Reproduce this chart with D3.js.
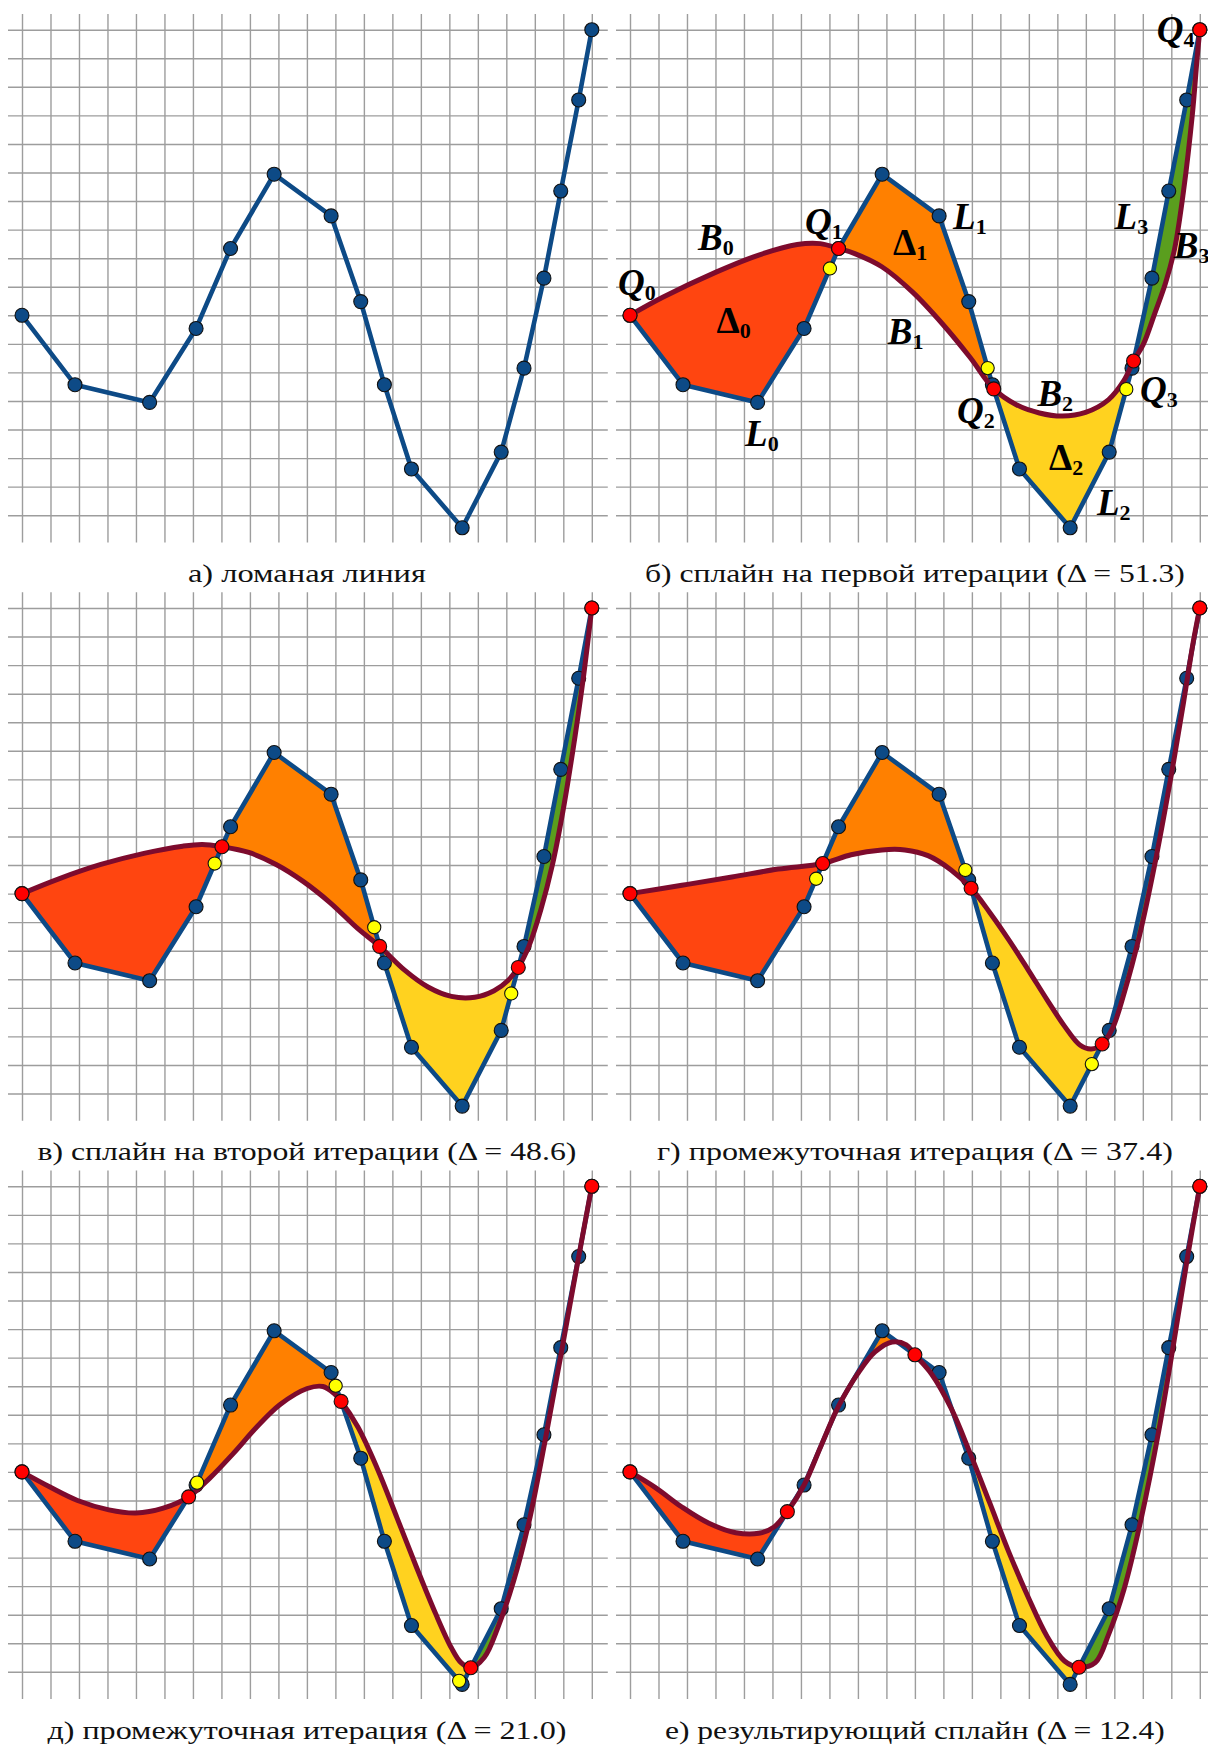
<!DOCTYPE html>
<html>
<head>
<meta charset="utf-8">
<script src="https://cdn.jsdelivr.net/npm/d3@7"></script>
<style>
  body { margin: 0; background: #fff; }
  svg { display: block; }
</style>
</head>
<body>
<svg id="fig" width="1208" height="1747"></svg>
<script>
// ---- data (grid units: x to the right, y upwards) ----
// vertices of the polyline L
const polyX = [0, 1.86, 4.48, 6.11, 7.32, 8.85, 10.85, 11.89, 12.72, 13.67, 15.45, 16.82, 17.62, 18.32, 18.91, 19.54, 20];
const polyY = [7, 4.57, 3.95, 6.54, 9.34, 11.94, 10.48, 7.48, 4.57, 1.62, -0.44, 2.21, 5.15, 8.30, 11.35, 14.54, 17];

// panel order and captions
const panelKeys = ["a", "b", "c", "d", "e", "f"];
const captionHeads = ["а) ломаная линия", "б) сплайн на первой итерации", "в) сплайн на второй итерации",
                      "г) промежуточная итерация", "д) промежуточная итерация", "е) результирующий сплайн"];
const deltas = [null, 51.3, 48.6, 37.4, 21.0, 12.4];

// spline nodes Q0..Q4, as fractional positions along the polyline
const nodesB = [0, 4, 8.05, 12.08, 16];
const nodesC = [0, 3.75, 7.8, 11.75, 16];
const nodesD = [0, 3.54, 7.1, 10.82, 16];
const nodesE = [0, 2.84, 6.337, 10.22, 16];
const nodesF = [0, 2.64, 5.575, 10.226, 16];

// candidate points (next node positions), same encoding
const probesB = [3.75, 7.8, 11.75];
const probesC = [3.54, 7.57, 11.44];
const probesD = [3.35, 6.885, 10.555];
const probesE = [3.03, 6.154, 9.94];

// interior points of the curve pieces B0..B3 between consecutive nodes
const curvesB = [
  [[1.15, 7.63], [3.04, 8.52], [4.52, 9.11], [5.87, 9.48], [6.68, 9.51]],
  [[7.89, 9.16], [8.84, 8.70], [9.92, 7.81], [11.0, 6.66], [11.94, 5.52]],
  [[13.56, 3.87], [14.37, 3.58], [15.18, 3.47], [15.99, 3.60], [16.80, 4.05], [17.34, 4.72]],
  [[18.02, 5.99], [18.42, 7.07], [18.80, 8.14], [19.12, 9.35], [19.43, 11.36], [19.74, 14.05], [19.90, 15.93]]
];
const curvesC = [
  [[1.27, 7.51], [2.77, 8.02], [4.28, 8.41], [5.64, 8.66], [6.33, 8.72]],
  [[7.96, 8.44], [8.92, 8.02], [9.88, 7.42], [10.83, 6.67], [11.79, 5.77]],
  [[13.43, 4.32], [14.25, 3.73], [15.07, 3.40], [15.89, 3.37], [16.57, 3.60], [17.05, 3.95]],
  [[17.80, 5.18], [18.21, 6.43], [18.62, 8.02], [19.03, 10.13], [19.41, 12.50], [19.71, 14.61]]
];
const curvesD = [
  [[1.82, 7.29], [3.58, 7.58], [5.20, 7.86]],
  [[7.76, 8.36], [8.84, 8.53], [9.65, 8.53], [10.46, 8.33], [11.27, 7.83]],
  [[12.62, 6.35], [13.29, 5.39], [13.97, 4.34], [14.64, 3.28], [15.25, 2.36], [15.79, 1.70], [16.19, 1.56]],
  [[16.94, 2.29], [17.35, 3.54], [17.88, 5.52], [18.42, 8.03], [18.96, 10.93], [19.43, 13.70], [19.77, 15.81]]
];
const curvesE = [
  [[1.0, 6.46], [1.95, 6.0], [3.05, 5.67], [4.0, 5.56], [4.96, 5.73]],
  [[6.60, 6.79], [7.42, 7.65], [8.24, 8.57], [9.06, 9.36], [10.01, 9.92], [10.56, 9.99], [10.97, 9.73]],
  [[11.79, 8.57], [12.47, 7.12], [13.16, 5.40], [13.84, 3.68], [14.52, 2.03], [15.07, 0.84], [15.41, 0.32]],
  [[16.23, 0.51], [16.71, 1.57], [17.25, 3.16], [17.80, 5.27], [18.35, 8.04], [18.89, 10.95], [19.44, 13.99]]
];
const curvesF = [
  [[0.88, 6.46], [1.82, 5.77], [2.77, 5.20], [3.71, 4.87], [4.52, 4.85], [5.06, 5.07]],
  [[6.11, 6.54], [6.70, 7.90], [7.32, 9.30], [8.0, 10.45], [8.6, 11.2], [9.2, 11.55], [9.7, 11.45]],
  [[10.59, 10.42], [11.27, 9.23], [11.94, 7.65], [12.62, 5.93], [13.29, 4.21], [13.97, 2.63], [14.64, 1.24], [15.25, 0.38]],
  [[16.33, 0.32], [16.80, 1.31], [17.34, 2.89], [17.95, 5.40], [18.56, 8.44], [19.10, 11.61], [19.57, 14.52]]
];

// annotations of panel б (main letter, subscript, anchor in grid units)
const labelMain = ["Q", "B", "Δ", "L", "Q", "Δ", "L", "B", "Q", "B", "Δ", "L", "Q", "L", "B", "Q"];
const labelSub  = ["0", "0", "0", "0", "1", "1", "1", "1", "2", "2", "2", "2", "3", "3", "3", "4"];
const labelX = [-0.42, 2.39, 3.04, 4.04, 6.14, 9.23, 11.34, 9.05, 11.48, 14.30, 14.71, 16.39, 17.90, 17.01, 19.09, 18.49];
const labelY = [7.71, 9.29, 6.38, 2.42, 9.83, 9.11, 10.03, 5.99, 3.23, 3.83, 1.58, 0.0, 3.97, 10.03, 9.02, 16.58];

// ---- layout & style ----
const layout = {
  cellW: 28.49, cellH: 28.56,
  colX: [22, 630], rowY: [29.7, 608, 1186.3], captionY: [582, 1160.3, 1738.6],
  captionW: [238, 540, 539, 516, 519, 500]
};
const style = {
  grid: "#9d9d9d", blue: "#0d4a86", spline: "#7d0b2d", node: "#ff0000", probe: "#ffff00",
  fills: ["#ff4510", "#ff8000", "#ffd21f", "#5a9e1e"]
};
const splineData = {
  b: { nodes: nodesB, probes: probesB, curves: curvesB },
  c: { nodes: nodesC, probes: probesC, curves: curvesC },
  d: { nodes: nodesD, probes: probesD, curves: curvesD },
  e: { nodes: nodesE, probes: probesE, curves: curvesE },
  f: { nodes: nodesF, probes: [], curves: curvesF }
};

const GW = 20, GH = 17;
const polyPts = polyX.map((v, i) => [v, polyY[i]]);

// point at fractional position s along the polyline
function pointAt(s) {
  const i = Math.min(Math.floor(s), polyX.length - 2);
  const t = s - i;
  return [polyX[i] + t * (polyX[i + 1] - polyX[i]), polyY[i] + t * (polyY[i + 1] - polyY[i])];
}
// part of the polyline between positions s0 and s1
function polySlice(s0, s1) {
  const pts = [pointAt(s0)];
  for (let i = Math.floor(s0) + 1; i < s1; i++) if (i > s0) pts.push(polyPts[i]);
  pts.push(pointAt(s1));
  return pts;
}

const svg = d3.select("#fig");

panelKeys.forEach((key, idx) => {
  const col = idx % 2, row = Math.floor(idx / 2);
  const cx = layout.colX[col], ry = layout.rowY[row];
  const x = d3.scaleLinear().domain([0, GW]).range([cx, cx + GW * layout.cellW]);
  const y = d3.scaleLinear().domain([0, GH]).range([ry + GH * layout.cellH, ry]);
  const g = svg.append("g").attr("class", "panel-" + key);

  // square grid drawn with axes
  const vGrid = g.append("g")
    .attr("transform", `translate(0,${ry - 15.7})`)
    .call(d3.axisBottom(x).tickValues(d3.range(0, GW + 1)).tickSize(528.5).tickFormat(""));
  const hGrid = g.append("g")
    .attr("transform", `translate(${cx - 14},0)`)
    .call(d3.axisRight(y).tickValues(d3.range(0, GH + 1)).tickSize(599.8).tickFormat(""));
  [vGrid, hGrid].forEach(ax => {
    ax.select(".domain").remove();
    ax.selectAll("text").remove();
    ax.selectAll("line").attr("stroke", style.grid).attr("stroke-width", 1.4);
  });

  const lin = d3.line().x(d => x(d[0])).y(d => y(d[1]));
  const smooth = d3.line().x(d => x(d[0])).y(d => y(d[1])).curve(d3.curveCatmullRom.alpha(0.5));

  const sd = splineData[key];
  let piecePts = [];
  if (sd) {
    piecePts = sd.curves.map((inner, k) => [pointAt(sd.nodes[k]), ...inner, pointAt(sd.nodes[k + 1])]);
    // deviation areas Δk between Lk and Bk
    g.append("g").selectAll("path").data(piecePts).join("path")
      .attr("d", (pts, k) => lin(polySlice(sd.nodes[k], sd.nodes[k + 1])) +
        smooth(pts.slice().reverse()).replace(/^M/, "L") + "Z")
      .attr("fill", (d, k) => style.fills[k])
      .attr("stroke", "none");
  }

  // polyline
  g.append("path").attr("d", lin(polyPts))
    .attr("fill", "none").attr("stroke", style.blue)
    .attr("stroke-width", 4.6).attr("stroke-linejoin", "round").attr("stroke-linecap", "round");
  g.append("g").selectAll("circle").data(polyPts).join("circle")
    .attr("cx", d => x(d[0])).attr("cy", d => y(d[1])).attr("r", 7)
    .attr("fill", style.blue).attr("stroke", "#111").attr("stroke-width", 1.1);

  if (sd) {
    // the spline as one smooth stroke
    const all = [];
    piecePts.forEach((pts, k) => pts.forEach((p, j) => { if (k === 0 || j > 0) all.push(p); }));
    g.append("path").attr("d", smooth(all))
      .attr("fill", "none").attr("stroke", style.spline)
      .attr("stroke-width", 5).attr("stroke-linecap", "round");

    g.append("g").selectAll("circle").data(sd.probes.map(pointAt)).join("circle")
      .attr("cx", d => x(d[0])).attr("cy", d => y(d[1])).attr("r", 6.6)
      .attr("fill", style.probe).attr("stroke", "#111").attr("stroke-width", 1.1);
    g.append("g").selectAll("circle").data(sd.nodes.map(pointAt)).join("circle")
      .attr("cx", d => x(d[0])).attr("cy", d => y(d[1])).attr("r", 7)
      .attr("fill", style.node).attr("stroke", "#111").attr("stroke-width", 1.1);
  }

  if (key === "b") {
    const lab = g.append("g").attr("font-family", "'Liberation Serif', 'Times New Roman', serif")
      .attr("font-weight", "bold").attr("fill", "#000");
    labelMain.forEach((m, i) => {
      const t = lab.append("text").attr("x", x(labelX[i])).attr("y", y(labelY[i])).attr("font-size", 37);
      t.append("tspan").attr("font-style", m === "Δ" ? "normal" : "italic").text(m);
      t.append("tspan").attr("font-style", "normal").attr("font-size", 22).attr("dy", 5).text(labelSub[i]);
    });
  }

  // caption
  const cap = captionHeads[idx] + (deltas[idx] !== null ? ` (Δ = ${deltas[idx].toFixed(1)})` : "");
  g.append("text")
    .attr("x", x(GW / 2)).attr("y", layout.captionY[row])
    .attr("text-anchor", "middle")
    .attr("font-family", "'Liberation Serif', 'Times New Roman', serif")
    .attr("font-size", 26).attr("fill", "#111")
    .attr("textLength", layout.captionW[idx]).attr("lengthAdjust", "spacingAndGlyphs")
    .text(cap);
});
</script>
</body>
</html>
